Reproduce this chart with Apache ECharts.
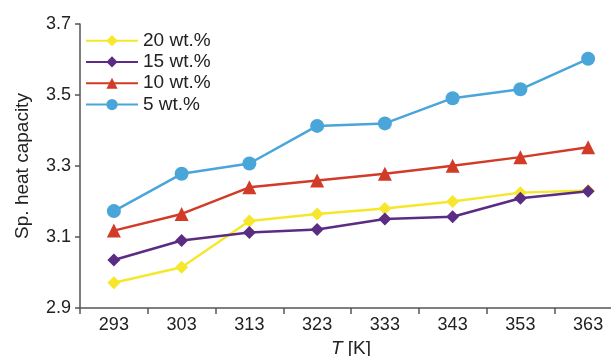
<!DOCTYPE html>
<html>
<head>
<meta charset="utf-8">
<script src="https://cdn.jsdelivr.net/npm/echarts@6/dist/echarts.min.js"></script>
<style>
  html, body { margin: 0; padding: 0; background: #fff; }
  #chart { width: 611px; height: 356px; }
</style>
</head>
<body>
<div id="chart"></div>
<script>
// Temperatures (K) on the x axis
const temperatures = ['293', '303', '313', '323', '333', '343', '353', '363'];

// Specific heat capacity for each concentration
const wt20 = [2.971, 3.015, 3.145, 3.165, 3.180, 3.200, 3.225, 3.231];
const wt15 = [3.035, 3.090, 3.113, 3.121, 3.151, 3.157, 3.209, 3.229];
const wt10 = [3.118, 3.165, 3.240, 3.259, 3.278, 3.301, 3.325, 3.353];
const wt5  = [3.173, 3.278, 3.307, 3.413, 3.420, 3.491, 3.516, 3.602];

// Y axis tick labels
const yTicks = [2.9, 3.1, 3.3, 3.5, 3.7];

const FONT = 'Liberation Sans, Arial, sans-serif';
const AXIS_COLOR = '#555';
const TEXT_COLOR = '#222';

function lineSeries(name, data, color, symbol, size) {
  return {
    name: name,
    type: 'line',
    data: data,
    symbol: symbol,
    symbolSize: size,
    lineStyle: { color: color, width: 2.5 },
    itemStyle: { color: color },
    z: 3
  };
}

const chart = echarts.init(document.getElementById('chart'), null, { renderer: 'canvas' });

chart.setOption({
  animation: false,
  backgroundColor: '#fff',
  textStyle: { fontFamily: FONT },
  grid: { left: 80, right: -11, top: 24, bottom: 48, containLabel: false, outerBoundsMode: 'none' },
  legend: {
    orient: 'vertical',
    left: 85,
    top: 30,
    padding: 0,
    itemWidth: 52,
    itemHeight: 14,
    itemGap: 0,
    textStyle: { fontFamily: FONT, fontSize: 19, color: TEXT_COLOR, lineHeight: 21.3 },
    data: ['20 wt.%', '15 wt.%', '10 wt.%', '5 wt.%']
  },
  xAxis: {
    type: 'category',
    data: temperatures,
    boundaryGap: true,
    name: '{it|T} [K]',
    nameLocation: 'middle',
    nameGap: 31,
    nameTextStyle: {
      fontFamily: FONT, fontSize: 19, color: TEXT_COLOR,
      rich: { it: { fontStyle: 'italic', fontFamily: FONT, fontSize: 19, color: TEXT_COLOR } }
    },
    axisLine: { lineStyle: { color: AXIS_COLOR, width: 1.5 } },
    axisTick: { show: true, inside: false, length: 6, alignWithLabel: false, lineStyle: { color: AXIS_COLOR, width: 1.5 } },
    axisLabel: { fontFamily: FONT, fontSize: 18, color: TEXT_COLOR, margin: 8 },
    splitLine: { show: false }
  },
  yAxis: {
    type: 'value',
    min: 2.9,
    max: 3.7,
    interval: 0.2,
    name: 'Sp. heat capacity',
    nameLocation: 'middle',
    nameGap: 48,
    nameTextStyle: { fontFamily: FONT, fontSize: 19, color: TEXT_COLOR },
    axisLine: { show: true, lineStyle: { color: AXIS_COLOR, width: 1.5 } },
    axisTick: { show: true, length: 5, customValues: yTicks, lineStyle: { color: AXIS_COLOR, width: 1.5 } },
    axisLabel: {
      fontFamily: FONT, fontSize: 18, color: TEXT_COLOR, margin: 9,
      customValues: yTicks,
      formatter: v => v.toFixed(1)
    },
    splitLine: { show: false }
  },
  series: [
    lineSeries('20 wt.%', wt20, '#f6e72c', 'diamond', 13),
    lineSeries('15 wt.%', wt15, '#5b2c83', 'diamond', 13),
    lineSeries('10 wt.%', wt10, '#d23b27', 'triangle', 14),
    lineSeries('5 wt.%',  wt5,  '#4aa5d9', 'circle', 14)
  ]
});
</script>
</body>
</html>
